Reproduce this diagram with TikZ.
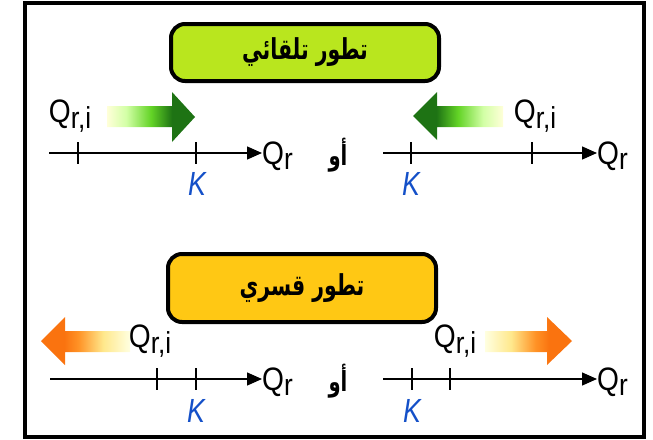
\documentclass[tikz,border=0pt]{standalone}
\usepackage{graphicx}
\usepackage{fontspec}
\setmainfont{Liberation Sans}
\newfontfamily\qfont{Liberation Sans}
\newfontfamily\kfont[FakeStretch=0.86]{Liberation Sans}
\newfontfamily\arabicfont[Script=Arabic,FakeStretch=0.85]{DejaVu Sans}
\TeXXeTstate=1
\usetikzlibrary{arrows.meta}
\definecolor{boxgreen}{RGB}{185,230,30}
\definecolor{boxyellow}{RGB}{255,200,20}
\definecolor{kblue}{RGB}{20,80,200}
\definecolor{darkgreen}{RGB}{30,115,20}
\definecolor{orangeh}{RGB}{250,115,15}
\pgfdeclarehorizontalshading{greenfade}{100bp}{color(0bp)=(white); color(25bp)=(white!85!yellow); color(36bp)=(yellow!50!green!35); color(50bp)=(yellow!35!green!80!black!85); color(62bp)=(darkgreen); color(100bp)=(darkgreen)}
\pgfdeclarehorizontalshading{orangefade}{100bp}{color(0bp)=(white); color(25bp)=(white!88!yellow); color(40bp)=(yellow!60!orange!45); color(54bp)=(orange!85); color(62bp)=(orangeh); color(100bp)=(orangeh)}
\newcommand{\Qsub}[1]{\scalebox{0.97}[1.12]{Q\raisebox{-5pt}{\fontsize{27}{27}\selectfont #1}}}
\newcommand{\Ktxt}{\scalebox{1}[1.08]{K}}
\newcommand{\Artxt}[1]{\scalebox{1}[1.2]{\beginR #1\endR}}
\tikzset{
  x=1pt, y=-1pt,
  titlebox/.style={draw=black, line width=4pt, rounded corners=14pt, minimum width=268pt, inner sep=0pt,
    font=\arabicfont\bfseries\fontsize{24}{24}\selectfont},
  axisline/.style={line width=1.3pt, -{Triangle[length=15pt,width=13pt]}},
  tickline/.style={line width=1.3pt},
  qlab/.style={inner sep=0pt, font=\qfont\fontsize{29}{29}\selectfont},
  klab/.style={inner sep=0pt, text=kblue, font=\kfont\itshape\fontsize{31}{31}\selectfont},
  orlab/.style={inner sep=0pt, font=\arabicfont\bfseries\fontsize{23}{23}\selectfont},
}
\begin{document}
\begin{tikzpicture}
\useasboundingbox (0,0) rectangle (653,439);
% frame
\draw[line width=4pt] (25,3) rectangle (644,437);

% title boxes
\node[titlebox, fill=boxgreen, minimum height=57pt] (b1) at (305,52.5) {\Artxt{تطور تلقائي}};
\node[titlebox, fill=boxyellow, minimum height=68pt] (b2) at (302,288) {\Artxt{تطور قسري}};

% ---------- top row ----------
\coordinate (s1) at (49,153);
\node[qlab, anchor=west] (qr1) at (262,156) {\Qsub{r}};
\draw[axisline] (s1) -- (s1 -| qr1.west);
\coordinate (t1a) at (78,153);
\coordinate (t1b) at (196,153);
\draw[tickline] (t1a) ++(0,-11) -- ++(0,22);
\draw[tickline] (t1b) ++(0,-11) -- ++(0,22);
\node[qlab] (qi1) at (70,116) {\Qsub{r,i}};
\node[klab] (k1) at (197,184) {\Ktxt};
\shade[shading=greenfade] (107,106) -- (172,106) -- (172,92) -- (195,117) -- (172,142) -- (172,127) -- (107,127) -- cycle;

\node[orlab] (or1) at (338,155) {\Artxt{أو}};

\coordinate (s2) at (383,153);
\node[qlab, anchor=west] (qr2) at (597,156) {\Qsub{r}};
\draw[axisline] (s2) -- (s2 -| qr2.west);
\coordinate (t2a) at (411,153);
\coordinate (t2b) at (532,153);
\draw[tickline] (t2a) ++(0,-11) -- ++(0,22);
\draw[tickline] (t2b) ++(0,-11) -- ++(0,22);
\node[qlab] (qi2) at (535,116) {\Qsub{r,i}};
\node[klab] (k2) at (411,184) {\Ktxt};
\shade[shading=greenfade, shading angle=180] (503,106) -- (437,106) -- (437,92) -- (413,116) -- (437,140) -- (437,127) -- (503,127) -- cycle;

% ---------- bottom row ----------
\coordinate (s3) at (50,379);
\node[qlab, anchor=west] (qr3) at (262,382) {\Qsub{r}};
\draw[axisline] (s3) -- (s3 -| qr3.west);
\coordinate (t3a) at (157,379);
\coordinate (t3b) at (196,379);
\draw[tickline] (t3a) ++(0,-11) -- ++(0,22);
\draw[tickline] (t3b) ++(0,-11) -- ++(0,22);
\node[qlab] (qi3) at (150,341) {\Qsub{r,i}};
\node[klab] (k3) at (196,411) {\Ktxt};
\shade[shading=orangefade, shading angle=180] (130,331) -- (65,331) -- (65,317) -- (41,341) -- (65,365) -- (65,352) -- (130,352) -- cycle;

\node[orlab] (or2) at (338,381) {\Artxt{أو}};

\coordinate (s4) at (383,379);
\node[qlab, anchor=west] (qr4) at (597,382) {\Qsub{r}};
\draw[axisline] (s4) -- (s4 -| qr4.west);
\coordinate (t4a) at (412,379);
\coordinate (t4b) at (450,379);
\draw[tickline] (t4a) ++(0,-11) -- ++(0,22);
\draw[tickline] (t4b) ++(0,-11) -- ++(0,22);
\node[qlab] (qi4) at (455,341) {\Qsub{r,i}};
\node[klab] (k4) at (412,411) {\Ktxt};
\shade[shading=orangefade] (485,331) -- (547,331) -- (547,317) -- (572,341) -- (547,365) -- (547,352) -- (485,352) -- cycle;
\end{tikzpicture}
\end{document}
